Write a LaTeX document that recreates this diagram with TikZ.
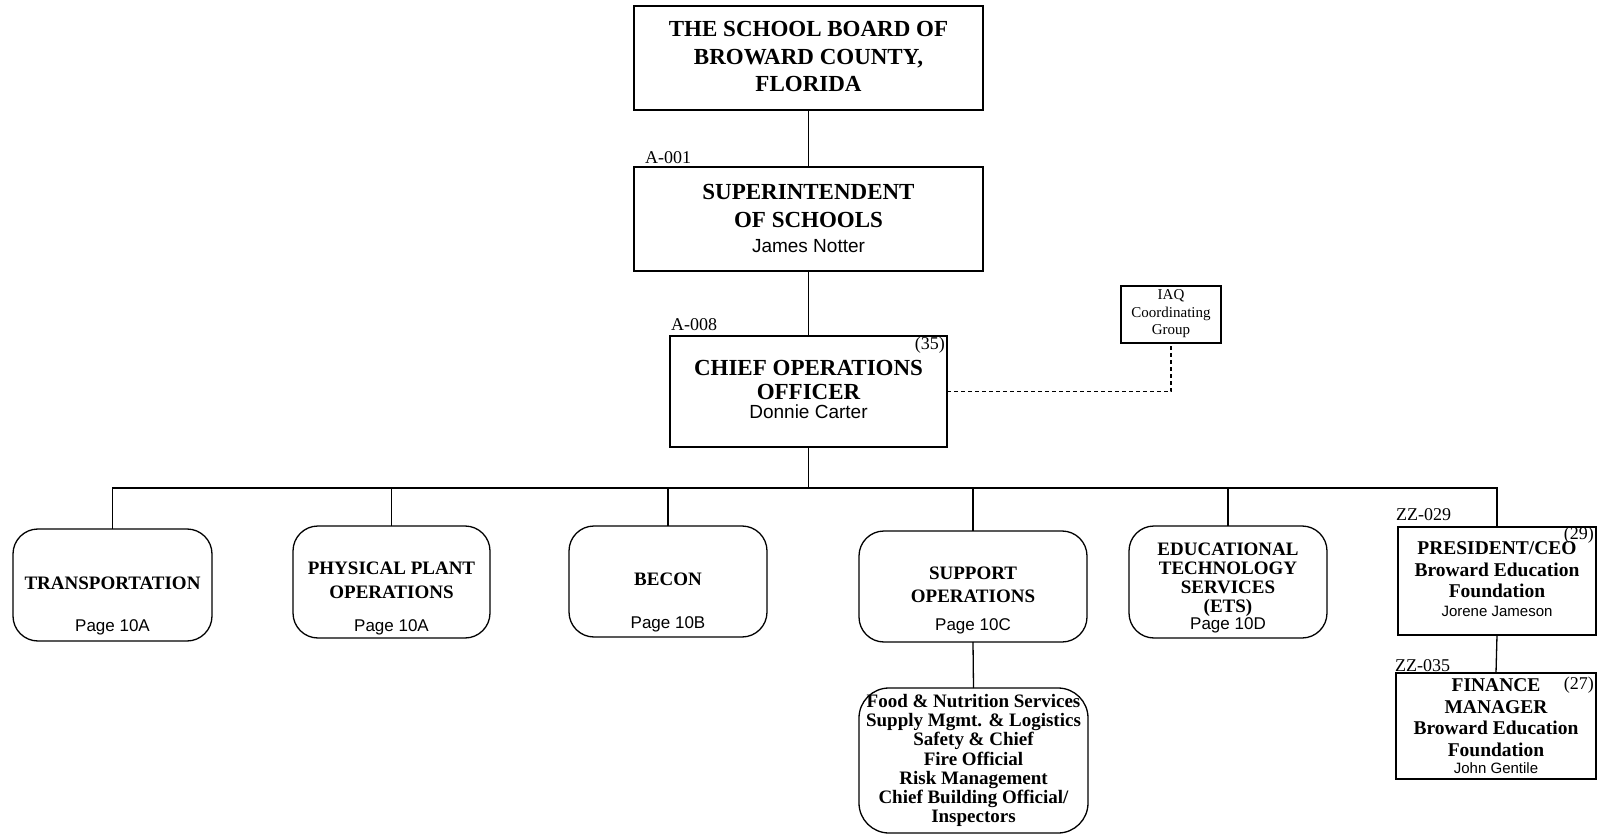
\documentclass[tikz,border=0pt]{standalone}
\usepackage{fontspec}
\setmainfont{Liberation Serif}
\newfontfamily\arial{Liberation Sans}
\begin{document}
\begin{tikzpicture}[x=1pt,y=-1pt,
  box/.style={draw, line width=1.3pt, inner sep=0pt, outer sep=0pt},
  rbox/.style={box, rounded corners=25pt},
  conn/.style={line width=1.3pt},
  ttl/.style={font=\bfseries\fontsize{23}{27.5}\selectfont, align=center, inner sep=0pt},
  btl/.style={font=\bfseries\fontsize{19}{23.5}\selectfont, align=center, inner sep=0pt},
  nm/.style={font=\arial\fontsize{19}{22}\selectfont, inner sep=0pt},
  pg/.style={font=\arial\fontsize{17}{20}\selectfont, inner sep=0pt},
  sm/.style={font=\arial\fontsize{15}{18}\selectfont, inner sep=0pt},
  code/.style={font=\fontsize{18}{20}\selectfont, inner sep=0pt}
]
\useasboundingbox (0,0) rectangle (1604,834);

% Board
\node[box, minimum width=349pt, minimum height=104pt] (board) at (808.5,58) {};
\node[ttl] (boardT) at (808.5,57) {THE SCHOOL BOARD OF\\BROWARD COUNTY,\\FLORIDA};

% Superintendent
\node[box, minimum width=349pt, minimum height=104pt] (super) at (808.5,219) {};
\node[ttl] (superT) at (808.5,206) {SUPERINTENDENT\\OF SCHOOLS};
\node[nm] (superN) at (808.5,246) {James Notter};
\node[code, anchor=west] (superC) at (645,158) {A-001};

% COO
\node[box, minimum width=277pt, minimum height=111pt] (coo) at (808.5,391.5) {};
\node[ttl, font=\bfseries\fontsize{23}{24}\selectfont] (cooT) at (808.5,380) {CHIEF OPERATIONS\\OFFICER};
\node[nm] (cooN) at (808.5,412) {Donnie Carter};
\node[code, anchor=west] (cooC) at (671,325) {A-008};
\node[code, anchor=east] (cooK) at (945,345) {(35)};

% IAQ
\node[box, minimum width=100pt, minimum height=57pt] (iaq) at (1171,314.5) {};
\node[font=\fontsize{15}{17.4}\selectfont, align=center, inner sep=0pt] (iaqT) at (1171,314) {IAQ\\Coordinating\\Group};

% Branches
\node[rbox, minimum width=199pt, minimum height=112pt] (trans) at (112.5,585) {};
\node[btl] (transT) at (112.5,583) {TRANSPORTATION};
\node[pg] (transP) at (112.5,627) {Page 10A};

\node[rbox, minimum width=197pt, minimum height=112pt] (phys) at (391.5,582) {};
\node[btl] (physT) at (391.5,580.5) {PHYSICAL PLANT\\OPERATIONS};
\node[pg] (physP) at (391.5,627) {Page 10A};

\node[rbox, minimum width=198pt, minimum height=111pt] (becon) at (668,581.5) {};
\node[btl] (beconT) at (668,579) {BECON};
\node[pg] (beconP) at (668,624) {Page 10B};

\node[rbox, minimum width=228pt, minimum height=111pt] (supp) at (973,586.5) {};
\node[btl, font=\bfseries\fontsize{19}{22.5}\selectfont] (suppT) at (973,585) {SUPPORT\\OPERATIONS};
\node[pg] (suppP) at (973,626) {Page 10C};

\node[rbox, minimum width=198pt, minimum height=112pt] (ets) at (1228,582) {};
\node[btl, font=\bfseries\fontsize{19}{19}\selectfont] (etsT) at (1228,580) {EDUCATIONAL\\TECHNOLOGY\\SERVICES\\(ETS)};
\node[pg] (etsP) at (1228,625) {Page 10D};

% President
\node[box, minimum width=198pt, minimum height=108pt] (pres) at (1497,581) {};
\node[btl, font=\bfseries\fontsize{19.5}{21.5}\selectfont] (presT) at (1497,570) {PRESIDENT/CEO\\Broward Education\\Foundation};
\node[sm] (presN) at (1497,611) {Jorene Jameson};
\node[code, anchor=west] (presC) at (1396,515) {ZZ-029};
\node[code, anchor=east] (presK) at (1594,535) {(29)};

% Finance
\node[box, minimum width=200pt, minimum height=106pt] (fin) at (1496,726) {};
\node[btl, font=\bfseries\fontsize{19.5}{21.5}\selectfont] (finT) at (1496,717.5) {FINANCE\\MANAGER\\Broward Education\\Foundation};
\node[sm] (finN) at (1496,768) {John Gentile};
\node[code, anchor=west] (finC) at (1395,666) {ZZ-035};
\node[code, anchor=east] (finK) at (1594,685) {(27)};

% Food
\node[box, rounded corners=30pt, minimum width=229pt, minimum height=145pt] (food) at (973.5,760.5) {};
\node[btl, font=\bfseries\fontsize{19}{19.2}\selectfont] (foodT) at (973.5,760.5) {Food \& Nutrition Services\\Supply Mgmt. \& Logistics\\Safety \& Chief\\Fire Official\\Risk Management\\Chief Building Official/\\Inspectors};

% Connectors
\coordinate (bus) at (808.5,488);
\draw[conn] (board.south) -- (super.north);
\draw[conn] (super.south) -- (coo.north);
\draw[conn] (coo.south) -- (bus);
\draw[conn] (trans.north) |- (bus);
\draw[conn] (phys.north) |- (bus);
\draw[conn] (becon.north) |- (bus);
\draw[conn] (supp.north) |- (bus);
\draw[conn] (ets.north) |- (bus);
\draw[conn] (pres.north) |- (bus);
\draw[conn] (supp.south) -- (food.north);
\draw[conn] (pres.south) -- (fin.north);
\draw[conn, dash pattern=on 4pt off 3pt] (coo.east) -| (iaq.south);
\end{tikzpicture}
\end{document}
